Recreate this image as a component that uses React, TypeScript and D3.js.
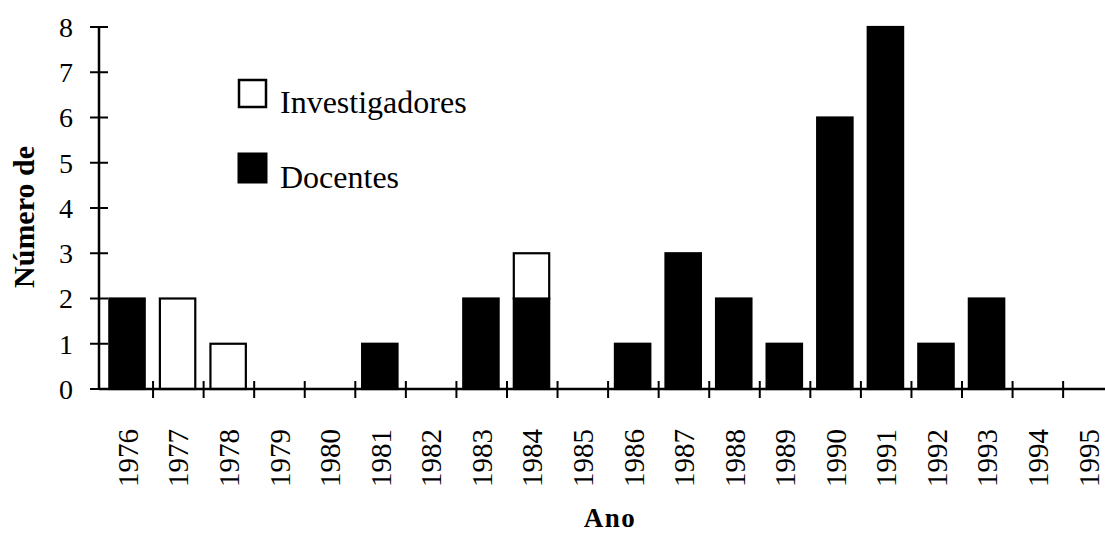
import React from "react";
import * as d3 from "d3";

const years = ["1976","1977","1978","1979","1980","1981","1982","1983","1984","1985","1986","1987","1988","1989","1990","1991","1992","1993","1994","1995"];
const docentes = [2,0,0,0,0,1,0,2,2,0,1,3,2,1,6,8,1,2,0,0];
const investigadores = [0,2,1,0,0,0,0,0,1,0,0,0,0,0,0,0,0,0,0,0];
const yTicks = [0,1,2,3,4,5,6,7,8];
const seriesKeys = ["Docentes", "Investigadores"];
const seriesFill: Record<string, string> = { Docentes: "#000", Investigadores: "#fff" };

const W = 1105, H = 535;
const FONT = "'Liberation Serif', 'Times New Roman', serif";

export default function App() {
  const x = d3.scaleBand<string>().domain(years).range([102.5, 102.5 + 20 * 50.56]).padding(0);
  const step = x.step();
  const y = d3.scaleLinear().domain([0, 8]).range([389, 27]);
  const rows = years.map((yr, i) => ({ year: yr, Docentes: docentes[i], Investigadores: investigadores[i] }));
  const stacked = d3.stack<any>().keys(seriesKeys)(rows);
  const axisX = 99;
  const y0 = y(0);

  return (
    <svg width={W} height={H} style={{ position: "absolute", left: 0, top: 0, background: "#fff" }} fontFamily={FONT}>
      <rect x={0} y={0} width={W} height={H} fill="#fff" />
      {/* bars */}
      {stacked.map((s) => (
        <g key={s.key}>
          {s.map((d, i) => {
            const h = y(d[0]) - y(d[1]);
            if (h <= 0) return null;
            return (
              <rect key={i} x={(x(years[i]) as number) + step * 0.135} width={step * 0.7}
                y={y(d[1])} height={h} fill={seriesFill[s.key]} stroke="#000" strokeWidth={2.2} />
            );
          })}
        </g>
      ))}
      {/* y axis */}
      <line x1={axisX} x2={axisX} y1={y(8)} y2={y0} stroke="#000" strokeWidth={2.5} />
      {yTicks.map((t) => (
        <g key={t}>
          <line x1={axisX - 9} x2={axisX + 9} y1={y(t)} y2={y(t)} stroke="#000" strokeWidth={2} />
          <text x={73} y={y(t)} dy="0.35em" textAnchor="end" fontSize={28}>{t}</text>
        </g>
      ))}
      {/* x axis */}
      <line x1={axisX} x2={W} y1={y0} y2={y0} stroke="#000" strokeWidth={2.5} />
      {years.slice(1).map((yr) => (
        <line key={yr} x1={x(yr) as number} x2={x(yr) as number} y1={y0 - 8} y2={y0 + 9} stroke="#000" strokeWidth={2} />
      ))}
      {years.map((yr) => {
        const cx = (x(yr) as number) + step / 2;
        return (
          <text key={yr} transform={`translate(${cx},487) rotate(-90)`} dy="0.35em" textAnchor="start" fontSize={29}>{yr}</text>
        );
      })}
      {/* axis titles */}
      <text transform={`translate(23,217) rotate(-90)`} dy="0.35em" textAnchor="middle" fontSize={30} fontWeight="bold">Número de</text>
      <text x={610} y={527} textAnchor="middle" fontSize={27} fontWeight="bold" letterSpacing={1.5}>Ano</text>
      {/* legend */}
      <rect x={239} y={80} width={27} height={27} fill="#fff" stroke="#000" strokeWidth={2.5} />
      <text x={280} y={113} fontSize={32}>Investigadores</text>
      <rect x={238} y={153} width={29} height={30} fill="#000" stroke="#000" strokeWidth={1} />
      <text x={280} y={188} fontSize={32}>Docentes</text>
    </svg>
  );
}
